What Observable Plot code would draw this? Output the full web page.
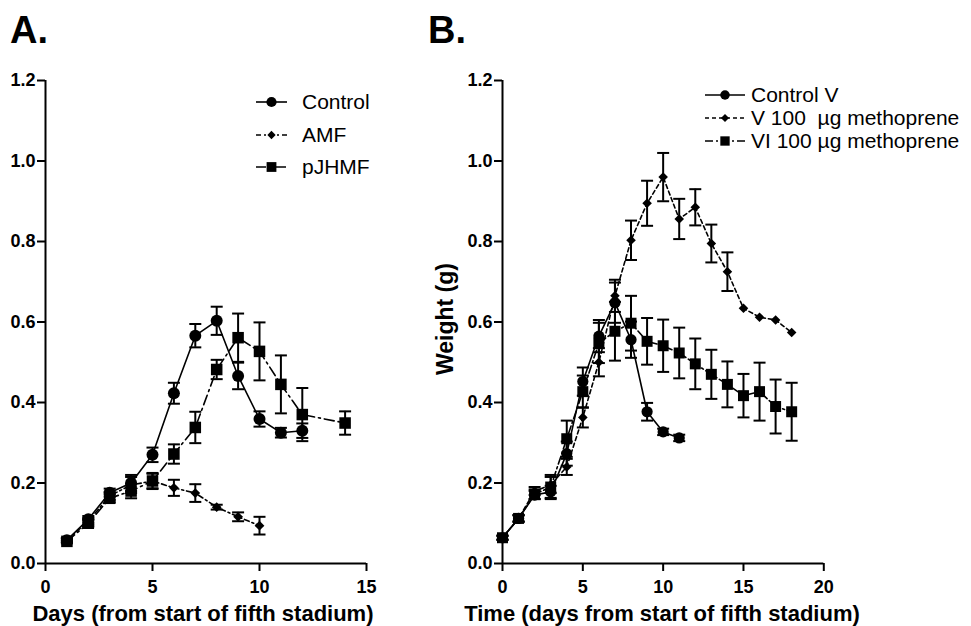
<!DOCTYPE html>
<html>
<head>
<meta charset="utf-8">
<script src="https://cdn.jsdelivr.net/npm/d3@7"></script>
<script src="https://cdn.jsdelivr.net/npm/@observablehq/plot@0.6"></script>
<style>
  html, body { margin: 0; padding: 0; background: #fff; }
  #wrap { position: relative; width: 971px; height: 626px; background: #fff; overflow: hidden;
          font-family: "Liberation Sans", Arial, sans-serif; }
  #wrap > svg { position: absolute; top: 0; }
</style>
</head>
<body>
<div id="wrap"></div>
<script>
// ---------- Panel A data ----------
const seriesA = ["Control", "AMF", "pJHMF"];
const daysControlA = [1, 2, 3, 4, 5, 6, 7, 8, 9, 10, 11, 12];
const controlA     = [0.058, 0.110, 0.176, 0.200, 0.270, 0.423, 0.566, 0.603, 0.466, 0.359, 0.325, 0.330];
const controlAErr  = [0.005, 0.008, 0.010, 0.020, 0.018, 0.026, 0.029, 0.035, 0.033, 0.019, 0.012, 0.018];
const daysAMF      = [1, 2, 3, 4, 5, 6, 7, 8, 9, 10];
const amf          = [0.058, 0.105, 0.168, 0.195, 0.205, 0.188, 0.175, 0.140, 0.116, 0.094];
const amfErr       = [0.005, 0.008, 0.010, 0.020, 0.018, 0.020, 0.022, 0.006, 0.011, 0.022];
const daysPJHMF    = [1, 2, 3, 4, 5, 6, 7, 8, 9, 10, 11, 12, 14];
const pjhmf        = [0.055, 0.100, 0.162, 0.180, 0.205, 0.272, 0.338, 0.482, 0.561, 0.527, 0.445, 0.370, 0.349];
const pjhmfErr     = [0.005, 0.008, 0.010, 0.018, 0.020, 0.024, 0.039, 0.024, 0.060, 0.072, 0.072, 0.066, 0.029];
const xTicksA = [0, 5, 10, 15];

// ---------- Panel B data ----------
const seriesB = ["Control V", "V 100  \u00b5g methoprene", "VI 100 \u00b5g methoprene"];
const daysControlB = [0, 1, 2, 3, 4, 5, 6, 7, 8, 9, 10, 11];
const controlB     = [0.064, 0.112, 0.170, 0.178, 0.273, 0.452, 0.565, 0.648, 0.556, 0.377, 0.327, 0.312];
const controlBErr  = [0.005, 0.008, 0.010, 0.015, 0.030, 0.035, 0.040, 0.050, 0.045, 0.022, 0.008, 0.008];
const daysV100     = [0, 1, 2, 3, 4, 5, 6, 7, 8, 9, 10, 11, 12, 13, 14, 15, 16, 17, 18];
const v100         = [0.064, 0.112, 0.180, 0.195, 0.240, 0.363, 0.500, 0.665, 0.803, 0.895, 0.960, 0.856, 0.885, 0.795, 0.725, 0.634, 0.612, 0.605, 0.574];
const v100Err      = [0.005, 0.008, 0.010, 0.020, 0.020, 0.025, 0.035, 0.040, 0.049, 0.056, 0.060, 0.050, 0.045, 0.047, 0.048, 0, 0, 0, 0];
const daysVI100    = [0, 1, 2, 3, 4, 5, 6, 7, 8, 9, 10, 11, 12, 13, 14, 15, 16, 17, 18];
const vi100        = [0.064, 0.112, 0.172, 0.190, 0.310, 0.427, 0.548, 0.577, 0.597, 0.552, 0.541, 0.523, 0.496, 0.470, 0.445, 0.417, 0.427, 0.390, 0.377];
const vi100Err     = [0.005, 0.008, 0.012, 0.030, 0.045, 0.040, 0.050, 0.073, 0.068, 0.058, 0.065, 0.063, 0.063, 0.061, 0.057, 0.054, 0.072, 0.067, 0.072];
const xTicksB = [0, 5, 10, 15, 20];

const yTicks = [0, 0.2, 0.4, 0.6, 0.8, 1.0, 1.2];

// ---------- helpers ----------
function rows(series, days, vals, errs) {
  return days.map((d, i) => ({series, x: d, y: vals[i], e: errs[i]}));
}
const capSymbol = {
  draw(ctx, size) {
    const w = Math.sqrt(size / Math.PI);
    ctx.moveTo(-w, 0); ctx.lineTo(w, 0);
  }
};
function seriesMarks(data, {dash, symbol, r}) {
  const withErr = data.filter(d => d.e > 0);
  return [
    Plot.line(data, {x: "x", y: "y", stroke: "black", strokeWidth: 1.6, strokeDasharray: dash}),
    Plot.ruleX(withErr, {x: "x", y1: d => d.y - d.e, y2: d => d.y + d.e, stroke: "black", strokeWidth: 2}),
    Plot.dot(withErr, {x: "x", y: d => d.y + d.e, symbol: capSymbol, r: 6, stroke: "black", strokeWidth: 2, fill: "none"}),
    Plot.dot(withErr, {x: "x", y: d => d.y - d.e, symbol: capSymbol, r: 6, stroke: "black", strokeWidth: 2, fill: "none"}),
    Plot.dot(data, {x: "x", y: "y", symbol, r, fill: "black", stroke: "none"})
  ];
}
const styleA = [
  {dash: null, symbol: "circle", r: 6},
  {dash: "5,3,2,3", symbol: "diamond2", r: 4.4},
  {dash: "10,4,2,4", symbol: "square", r: 6.5}
];
const styleB = [
  {dash: null, symbol: "circle", r: 5.6},
  {dash: "4,3", symbol: "diamond2", r: 4.3},
  {dash: "8,3,2,3", symbol: "square", r: 6.2}
];

function panel({width, marginLeft, marginRight, xDomain, xTicks, data, styles}) {
  return Plot.plot({
    width, height: 626,
    marginLeft, marginRight, marginTop: 80, marginBottom: 63,
    style: {background: "transparent", fontFamily: "'Liberation Sans', Arial, sans-serif", fontSize: "18px", fontWeight: "bold", color: "black", overflow: "visible"},
    x: {domain: xDomain},
    y: {domain: [0, 1.2]},
    marks: [
      Plot.axisY({ticks: yTicks, tickFormat: d3.format(".1f"), tickSize: 8, tickPadding: 2, strokeWidth: 2, label: null}),
      Plot.axisX({ticks: xTicks, tickFormat: d3.format("d"), tickSize: 8, tickPadding: 9, strokeWidth: 2, label: null}),
      Plot.ruleX([xDomain[0]], {stroke: "black", strokeWidth: 2}),
      Plot.ruleY([0], {stroke: "black", strokeWidth: 2}),
      ...data.flatMap((d, i) => seriesMarks(d, styles[i]))
    ]
  });
}

const wrap = document.getElementById("wrap");

const plotA = panel({
  width: 480, marginLeft: 45, marginRight: 114, xDomain: [0, 15], xTicks: xTicksA,
  data: [
    rows(seriesA[0], daysControlA, controlA, controlAErr),
    rows(seriesA[1], daysAMF, amf, amfErr),
    rows(seriesA[2], daysPJHMF, pjhmf, pjhmfErr)
  ],
  styles: styleA
});
plotA.style.left = "0px";
wrap.appendChild(plotA);

const plotB = panel({
  width: 541, marginLeft: 72, marginRight: 147.7, xDomain: [0, 20], xTicks: xTicksB,
  data: [
    rows(seriesB[0], daysControlB, controlB, controlBErr),
    rows(seriesB[1], daysV100, v100, v100Err),
    rows(seriesB[2], daysVI100, vi100, vi100Err)
  ],
  styles: styleB
});
plotB.style.left = "430px";
wrap.appendChild(plotB);

// ---------- overlay: panel letters, axis titles, legends ----------
const ov = d3.select(wrap).append("svg")
  .attr("width", 971).attr("height", 626)
  .style("left", "0px").style("pointer-events", "none")
  .attr("font-family", "'Liberation Sans', Arial, sans-serif");

ov.append("text").attr("x", 10).attr("y", 43).attr("font-size", 38).attr("font-weight", "bold").text("A.");
ov.append("text").attr("x", 428).attr("y", 43).attr("font-size", 38).attr("font-weight", "bold").text("B.");

ov.append("text").attr("x", 203).attr("y", 621).attr("text-anchor", "middle")
  .attr("font-size", 22).attr("font-weight", "bold").text("Days (from start of fifth stadium)");
ov.append("text").attr("x", 662).attr("y", 621).attr("text-anchor", "middle")
  .attr("font-size", 22).attr("font-weight", "bold").text("Time (days from start of fifth stadium)");
ov.append("text").attr("transform", "translate(453,319) rotate(-90)").attr("text-anchor", "middle")
  .attr("font-size", 23).attr("font-weight", "bold").text("Weight (g)");

const symMap = {circle: d3.symbolCircle, diamond2: d3.symbolDiamond2, square: d3.symbolSquare};
function legend(names, styles, {x0, x1, tx, ys, rScale, fs}) {
  names.forEach((name, i) => {
    const st = styles[i], y = ys[i];
    ov.append("line").attr("x1", x0).attr("x2", x1).attr("y1", y).attr("y2", y)
      .attr("stroke", "black").attr("stroke-width", 1.6)
      .attr("stroke-dasharray", st.dash ? st.dash : null);
    const r = st.r * rScale;
    ov.append("path").attr("transform", `translate(${(x0 + x1) / 2},${y})`)
      .attr("d", d3.symbol(symMap[st.symbol], Math.PI * r * r)()).attr("fill", "black");
    ov.append("text").attr("x", tx).attr("y", y + 7).attr("font-size", fs)
      .style("white-space", "pre").attr("xml:space", "preserve").text(name);
  });
}
legend(seriesA, styleA, {x0: 256, x1: 287, tx: 302, ys: [102, 135, 167], rScale: 0.85, fs: 21});
legend(seriesB, styleB, {x0: 705, x1: 745, tx: 751, ys: [95, 118, 141], rScale: 0.85, fs: 21});
</script>
</body>
</html>
